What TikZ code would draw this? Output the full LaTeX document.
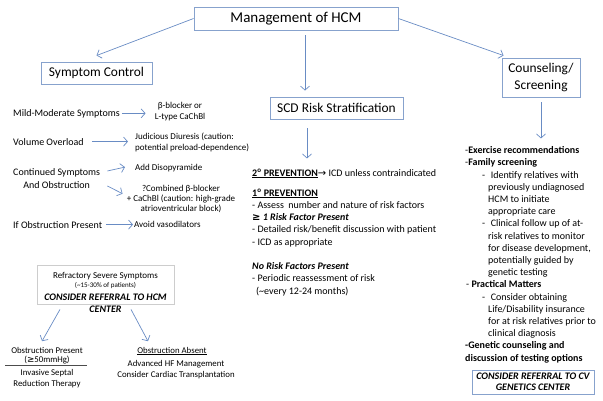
\documentclass[tikz,border=0pt]{standalone}
\usepackage{fontspec}
\setmainfont{Carlito}
\newfontfamily\arrowfont{DejaVu Sans}
\usetikzlibrary{positioning, arrows.meta}

\definecolor{boxblue}{RGB}{135,162,205}
\definecolor{arrowblue}{RGB}{105,140,196}
\definecolor{boxgray}{RGB}{205,205,205}

\tikzset{
    hbox/.style={draw=boxblue, line width=0.9pt, inner sep=0pt, align=center},
    arr/.style={draw=arrowblue, line width=0.7pt, -{Straight Barb[length=4pt,width=9pt]}},
    body/.style={inner sep=0pt, anchor=base west, align=left, font=\fontsize{10}{12.2}\selectfont},
    note/.style={inner sep=0pt, anchor=base, align=center, font=\fontsize{9}{10.8}\selectfont},
    sub/.style={inner sep=0pt, anchor=base, align=center, font=\fontsize{8.8}{10.4}\selectfont},
    refer/.style={font=\fontsize{10}{11}\selectfont\bfseries\itshape},
}

\begin{document}
\begin{tikzpicture}[x=1pt, y=-1pt]
    \useasboundingbox (0,0) rectangle (603,400);

    % main boxes
    \node[hbox, minimum width=204pt, minimum height=23pt, font=\fontsize{15}{18}\selectfont] (title) at (296,18.5) {Management of HCM};
    \node[hbox, minimum width=111pt, minimum height=22pt, font=\fontsize{13.4}{16}\selectfont] (symp) at (96.5,73) {Symptom Control};
    \node[hbox, minimum width=133pt, minimum height=22pt, font=\fontsize{13.4}{16}\selectfont] (scd) at (336.5,108) {SCD Risk Stratification};
    \node[hbox, minimum width=78pt, minimum height=39pt, font=\fontsize{13.4}{16.5}\selectfont] (couns) at (541,77.5) {Counseling/\\Screening};

    \draw[arr] (title.west) -- ([yshift=6pt]symp.north);
    \draw[arr] (title.east) -- ([xshift=2pt,yshift=2pt]couns.north west);
    \draw[arr] ([xshift=9pt,yshift=-5pt]title.south) -- ([xshift=-31.5pt,yshift=6pt]scd.north);
    \draw[arr] ([xshift=-29.5pt,yshift=-9pt]scd.south) -- ([xshift=-29.5pt,yshift=-39pt]scd.south);
    \draw[arr] ([yshift=-5pt]couns.south) -- ([yshift=-41pt]couns.south);

    % symptom control column (multi-line nodes sit on their last line)
    \node[body] (mild) at (13,116) {Mild-Moderate Symptoms};
    \node[note] (bbl) at (180,119.5) {β-blocker or\\L-type CaChBl};
    \node[body] (vol) at (13,145) {Volume Overload};
    \node[note, anchor=base west, align=left] (jud) at (135,150.5) {Judicious Diuresis (caution:\\potential preload-dependence)};
    \node[body, align=center] (cont) at (13,188) {Continued Symptoms\\And Obstruction};
    \node[note, anchor=base west] (diso) at (135,170.5) {Add Disopyramide};
    \node[note, font=\fontsize{9}{9.8}\selectfont] (combo) at (181,211) {?Combined β-blocker\\+ CaChBl (caution: high-grade\\atrioventricular block)};
    \node[body] (ifobs) at (13,228) {If Obstruction Present};
    \node[note, anchor=base west] (avoid) at (134,227.5) {Avoid vasodilators};

    \draw[arr, shorten <=2pt, shorten >=9pt] (mild.east) -- (mild.east -| bbl.west);
    \draw[arr, shorten <=8pt, shorten >=7pt] (vol.east) -- (vol.east -| jud.west);
    \draw[arr] ([xshift=7pt,yshift=7.5pt]cont.east) -- ([xshift=-10pt,yshift=1pt]diso.west);
    \draw[arr] ([xshift=7pt,yshift=-7.5pt]cont.east) -- ([xshift=-4pt,yshift=5pt]combo.west);
    \draw[arr, shorten <=3.5pt, shorten >=1pt] (ifobs.east) -- (ifobs.east -| avoid.west);

    % refractory symptoms
    \node[draw=boxgray, line width=0.8pt, minimum width=137pt, minimum height=39pt, inner sep=0pt] (refr) at (105.5,284.5) {};
    \node[note] (rf1) at (105.5,278) {Refractory Severe Symptoms};
    \node[note, font=\fontsize{7}{8}\selectfont] (rf2) at (105.5,287.5) {(\textasciitilde15-30\% of patients)};
    \node[note, refer] (rf3) at (105.5,300) {CONSIDER REFERRAL TO HCM};
    \node[note, refer] (rf4) at (105.5,312) {CENTER};

    \node[sub] (obsp) at (47,353) {Obstruction Present};
    \node[sub] (obsmm) at (47,362) {({\arrowfont ≥}50mmHg)};
    \node[sub] (isrt) at (47,386) {Invasive Septal\\Reduction Therapy};
    \node[sub] (obsa) at (172,353) {\underline{Obstruction Absent}};
    \node[sub] (advhf) at (176,377) {Advanced HF Management\\Consider Cardiac Transplantation};

    \draw[line width=0.6pt, black!70] ([xshift=-42pt,yshift=-2pt]obsmm.south) -- ([xshift=40pt,yshift=-2pt]obsmm.south);
    \draw[arr] ([xshift=-45.5pt,yshift=-5pt]refr.south) -- ([xshift=-5pt,yshift=5.5pt]obsp.north);
    \draw[arr] ([xshift=25.5pt,yshift=-5pt]refr.south) -- ([xshift=-24pt,yshift=5.5pt]obsa.north);

    % risk stratification column
    \node[body] (prev2) at (252,176) {\underline{\textbf{2\textsuperscript{o} PREVENTION}}{\arrowfont →} ICD unless contraindicated};
    \node[body] (prev1) at (252,245) {\underline{\textbf{1\textsuperscript{o} PREVENTION}}\\
        - Assess\ \ number and nature of risk factors\\
        \textbf{\textit{{\arrowfont ≥} 1 Risk Factor Present}}\\
        - Detailed risk/benefit discussion with patient\\
        - ICD as appropriate};
    \node[body] (norisk) at (252,294) {\textbf{\textit{No Risk Factors Present}}\\
        - Periodic reassessment of risk\\
        \hspace*{4pt}(\textasciitilde every 12-24 months)};

    % counseling column
    \node[body] (cnotes) at (465,361) {-\textbf{Exercise recommendations}\\
        -\textbf{Family screening}\\
        \hspace*{17pt}-\hspace*{5.5pt}Identify relatives with\\
        \hspace*{23pt}previously undiagnosed\\
        \hspace*{23pt}HCM to initiate\\
        \hspace*{23pt}appropriate care\\
        \hspace*{17pt}-\hspace*{5.5pt}Clinical follow up of at-\\
        \hspace*{23pt}risk relatives to monitor\\
        \hspace*{23pt}for disease development,\\
        \hspace*{23pt}potentially guided by\\
        \hspace*{23pt}genetic testing\\
        \hspace*{1pt}- \textbf{Practical Matters}\\
        \hspace*{17pt}-\hspace*{5.5pt}Consider obtaining\\
        \hspace*{23pt}Life/Disability insurance\\
        \hspace*{23pt}for at risk relatives prior to\\
        \hspace*{23pt}clinical diagnosis\\
        \textbf{-Genetic counseling and}\\
        \textbf{discussion of testing options}};
    \node[hbox, refer, line width=0.7pt, minimum width=122pt, minimum height=24pt] (cvbox) at (533,382) {CONSIDER REFERRAL TO CV\\GENETICS CENTER};
\end{tikzpicture}
\end{document}
